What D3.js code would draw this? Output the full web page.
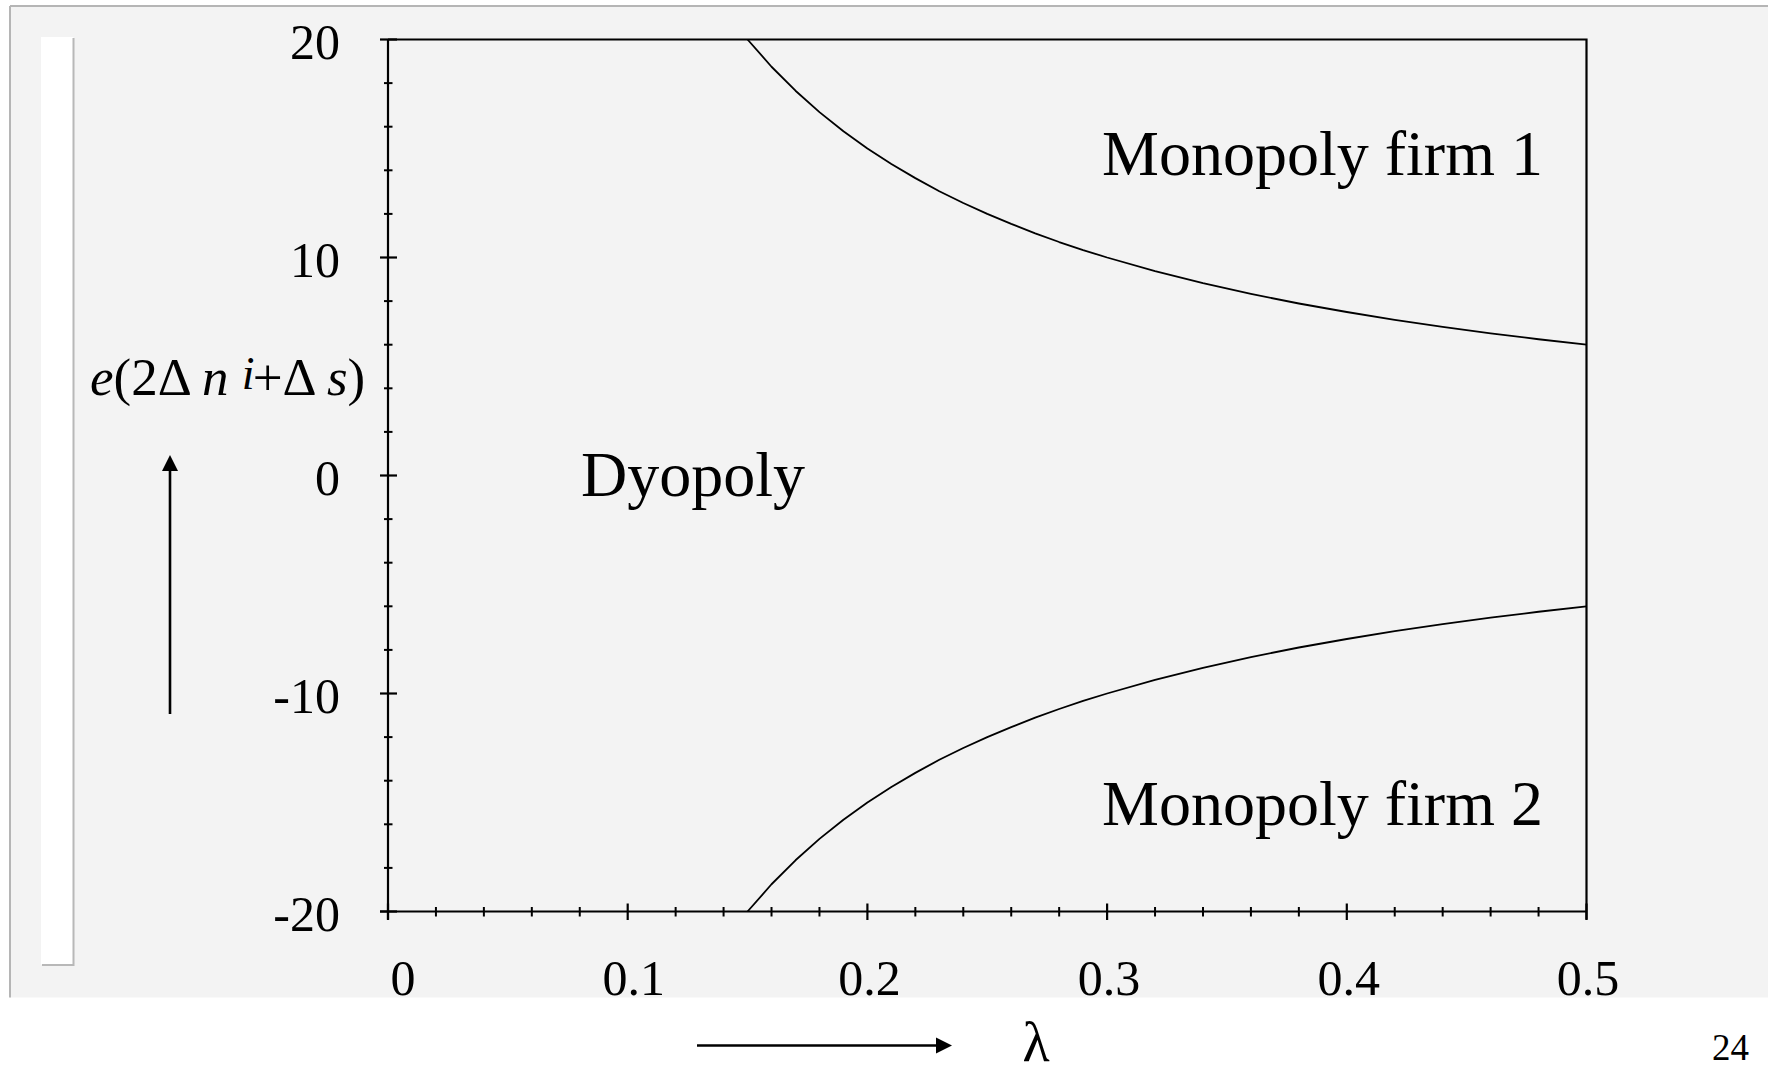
<!DOCTYPE html>
<html>
<head>
<meta charset="utf-8">
<script src="https://cdn.jsdelivr.net/npm/d3@7/dist/d3.min.js"></script>
<style>
  html, body { margin: 0; padding: 0; background: #ffffff; }
  svg { display: block; }
  text { font-family: "Liberation Serif", "Times New Roman", serif; fill: #000; }
</style>
</head>
<body>
<svg id="chart" width="1773" height="1074"></svg>
<script>
// λ values along the two regime boundaries
const lambdaValues = [0.15, 0.16, 0.17, 0.18, 0.19, 0.20, 0.21, 0.22, 0.23, 0.24, 0.25,
  0.26, 0.27, 0.28, 0.29, 0.30, 0.32, 0.34, 0.36, 0.38, 0.40, 0.42, 0.44, 0.46, 0.48, 0.50];
// upper boundary: monopoly of firm 1 above it
const upperBoundary = [20.0, 18.75, 17.65, 16.67, 15.79, 15.0, 14.29, 13.64, 13.04, 12.5, 12.0,
  11.54, 11.11, 10.71, 10.34, 10.0, 9.38, 8.82, 8.33, 7.89, 7.5, 7.14, 6.82, 6.52, 6.25, 6.0];
// lower boundary: monopoly of firm 2 below it
const lowerBoundary = [-20.0, -18.75, -17.65, -16.67, -15.79, -15.0, -14.29, -13.64, -13.04, -12.5, -12.0,
  -11.54, -11.11, -10.71, -10.34, -10.0, -9.38, -8.82, -8.33, -7.89, -7.5, -7.14, -6.82, -6.52, -6.25, -6.0];

const xMajorTicks = [0, 0.1, 0.2, 0.3, 0.4, 0.5];
const xTickLabels = ["0", "0.1", "0.2", "0.3", "0.4", "0.5"];
const xMinorStep = 0.02;
const yMajorTicks = [-20, -10, 0, 10, 20];
const yTickLabels = ["-20", "-10", "0", "10", "20"];
const yMinorStep = 2;

const regionLabels = [
  { text: "Monopoly firm 1", lambda: 0.2979, value: 13.78 },
  { text: "Dyopoly", lambda: 0.0805, value: -0.95 },
  { text: "Monopoly firm 2", lambda: 0.2979, value: -16.03 }
];

const svg = d3.select("#chart");

// slide panel
svg.append("rect").attr("x", 10).attr("y", 6).attr("width", 1758).attr("height", 991.5)
  .attr("fill", "#f3f3f3");
svg.append("line").attr("x1", 10).attr("x2", 1768).attr("y1", 6).attr("y2", 6)
  .attr("stroke", "#b5b5b5").attr("stroke-width", 2);
svg.append("line").attr("x1", 10).attr("x2", 10).attr("y1", 6).attr("y2", 997.5)
  .attr("stroke", "#b5b5b5").attr("stroke-width", 2);
// white strip on the left
svg.append("rect").attr("x", 41).attr("y", 37).attr("width", 32.5).attr("height", 927.5)
  .attr("fill", "#ffffff");
svg.append("path").attr("d", "M73.5,38 V965 H42")
  .attr("fill", "none").attr("stroke", "#b8b8b8").attr("stroke-width", 2);

svg.append("defs").append("clipPath").attr("id", "panelClip")
  .append("rect").attr("x", 0).attr("y", 0).attr("width", 1773).attr("height", 997.5);

const x = d3.scaleLinear().domain([0, 0.5]).range([388, 1586.5]);
const y = d3.scaleLinear().domain([-20, 20]).range([911.5, 39.5]);

const g = svg.append("g");

// frame: top and right edges
g.append("path")
  .attr("d", `M${x(0)},${y(20)} H${x(0.5)} V${y(-20) + 8}`)
  .attr("fill", "none").attr("stroke", "#000").attr("stroke-width", 2.2);

// axes lines
g.append("line").attr("x1", x(0)).attr("x2", x(0)).attr("y1", y(20)).attr("y2", y(-20) + 8)
  .attr("stroke", "#000").attr("stroke-width", 2.2);
g.append("line").attr("x1", x(0) - 8).attr("x2", x(0.5)).attr("y1", y(-20)).attr("y2", y(-20))
  .attr("stroke", "#000").attr("stroke-width", 2.2);

// y ticks
const yMinor = d3.range(-20, 20 + 1e-9, yMinorStep).filter(v => !yMajorTicks.includes(Math.round(v)));
g.selectAll(".ymin").data(yMinor).enter().append("line")
  .attr("x1", x(0) - 4).attr("x2", x(0) + 4.5)
  .attr("y1", d => y(d)).attr("y2", d => y(d))
  .attr("stroke", "#000").attr("stroke-width", 2);
g.selectAll(".ymaj").data(yMajorTicks).enter().append("line")
  .attr("x1", x(0) - 8).attr("x2", x(0) + 9)
  .attr("y1", d => y(d)).attr("y2", d => y(d))
  .attr("stroke", "#000").attr("stroke-width", 2.2);
g.selectAll(".ylab").data(yMajorTicks).enter().append("text")
  .attr("x", 340).attr("y", d => y(d) + 19)
  .attr("text-anchor", "end").attr("font-size", 50)
  .text((d, i) => yTickLabels[i]);

// x ticks
const xMinor = d3.range(0, 0.5 + 1e-9, xMinorStep)
  .filter(v => !xMajorTicks.some(t => Math.abs(t - v) < 1e-6));
g.selectAll(".xmin").data(xMinor).enter().append("line")
  .attr("x1", d => x(d)).attr("x2", d => x(d))
  .attr("y1", y(-20) - 4.5).attr("y2", y(-20) + 5)
  .attr("stroke", "#000").attr("stroke-width", 2);
g.selectAll(".xmaj").data(xMajorTicks).enter().append("line")
  .attr("x1", d => x(d)).attr("x2", d => x(d))
  .attr("y1", y(-20) - 8).attr("y2", y(-20) + 8.5)
  .attr("stroke", "#000").attr("stroke-width", 2.2);
const xLabelShift = [15, 6, 2, 2, 2, 1.5];
g.append("g").attr("clip-path", "url(#panelClip)")
  .selectAll("text").data(xMajorTicks).enter().append("text")
  .attr("x", (d, i) => x(d) + xLabelShift[i]).attr("y", 995)
  .attr("text-anchor", "middle").attr("font-size", 50)
  .text((d, i) => xTickLabels[i]);

// boundaries
const line = d3.line().x(d => x(d[0])).y(d => y(d[1]));
[upperBoundary, lowerBoundary].forEach(series => {
  g.append("path")
    .datum(lambdaValues.map((l, i) => [l, series[i]]))
    .attr("d", line)
    .attr("fill", "none").attr("stroke", "#000").attr("stroke-width", 1.8)
    .attr("stroke-linejoin", "round");
});

// region labels
g.selectAll(".region").data(regionLabels).enter().append("text")
  .attr("x", d => x(d.lambda)).attr("y", d => y(d.value))
  .attr("font-size", 64)
  .text(d => d.text);

// y-axis title
const yt = svg.append("text").attr("x", 90).attr("y", 395).attr("font-size", 53);
yt.append("tspan").attr("font-style", "italic").text("e");
yt.append("tspan").text("(2\u0394 ");
yt.append("tspan").attr("font-style", "italic").text("n");
yt.append("tspan").text(" ");
yt.append("tspan").attr("font-style", "italic").attr("font-size", 46).attr("dy", -6).text("i");
yt.append("tspan").attr("dy", 6).attr("dx", -2).text("+\u0394 ");
yt.append("tspan").attr("font-style", "italic").text("s");
yt.append("tspan").text(")");

// arrows
function arrow(x1, y1, x2, y2) {
  const ang = Math.atan2(y2 - y1, x2 - x1);
  const len = 16, half = 8;
  const bx = x2 - len * Math.cos(ang), by = y2 - len * Math.sin(ang);
  svg.append("line").attr("x1", x1).attr("y1", y1).attr("x2", bx).attr("y2", by)
    .attr("stroke", "#000").attr("stroke-width", 2.6);
  svg.append("path")
    .attr("d", `M${x2},${y2} L${bx - half * Math.sin(ang)},${by + half * Math.cos(ang)} L${bx + half * Math.sin(ang)},${by - half * Math.cos(ang)} Z`)
    .attr("fill", "#000");
}
arrow(170, 714, 170, 455);
arrow(697, 1045.5, 952, 1045.5);

// x-axis title
svg.append("text").attr("x", 1036).attr("y", 1061).attr("text-anchor", "middle")
  .attr("font-size", 56).text("\u03BB");

// page number
svg.append("text").attr("x", 1749).attr("y", 1060).attr("text-anchor", "end")
  .attr("font-size", 37).text("24");
</script>
</body>
</html>
